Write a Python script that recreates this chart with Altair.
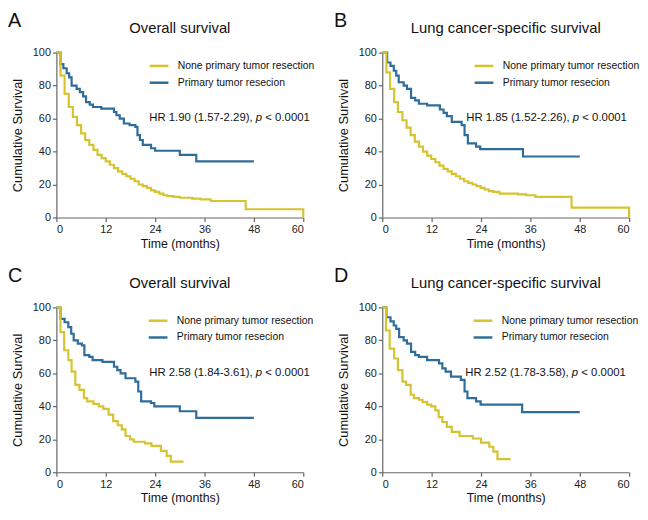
import altair as alt
import pandas as pd

FONT = "Liberation Sans, Arial, Helvetica, sans-serif"
YELLOW = "#D5C42F"
BLUE = "#2E6C99"
GROUPS = ["None primary tumor resection", "Primary tumor resecion"]

# ---------------- data ----------------
# Panel A - Overall survival
a_none_t = [0, 1.0, 2.0, 3.0, 4.0, 5.0, 6.0, 7.0, 8.0, 9.0, 10.0, 11.0, 12.0, 13.0, 14.0, 15.0, 16.0, 17.0,
            18.0, 19.0, 20.0, 21.0, 22.0, 23.0, 24.0, 25.0, 26.0, 27.0, 28.5, 30.0, 33.0, 35.0, 37.5, 46.0, 60.0]
a_none_s = [100, 86, 75, 67, 61, 56, 51, 47, 44, 41, 38, 36, 34, 32, 30, 28, 26.5, 25,
            23.5, 22, 20, 19, 18, 16.5, 15.5, 14.5, 13.5, 13, 12.5, 12, 11.5, 11, 10, 5, 0]
a_prim_t = [0, 1.0, 1.7, 2.5, 3.1, 3.7, 4.9, 5.7, 6.5, 7.2, 8.1, 8.9, 10.9, 14.0, 14.6, 15.4, 16.4, 17.8,
            19.2, 19.7, 20.3, 21.0, 23.0, 24.0, 30.0, 34.0, 48.0]
a_prim_s = [100, 93, 90.5, 87.5, 85, 80, 78, 76, 73.5, 70, 68.5, 67, 66, 64, 62, 60, 57, 56,
            55, 50, 47, 44, 42, 40.5, 38, 34, 34]

# Panel B - Lung cancer-specific survival
b_none_t = [0, 1.0, 1.9, 2.9, 3.8, 4.9, 5.9, 6.9, 7.9, 8.9, 9.9, 10.9, 11.9, 12.9, 13.9, 14.9, 15.9, 16.9,
            17.9, 18.9, 19.9, 20.9, 21.9, 22.9, 23.9, 24.9, 25.9, 27.0, 28.5, 33.0, 35.0, 37.2, 46.0, 60.0]
b_none_s = [100, 88, 78, 70, 64, 59, 54.5, 50, 46, 43, 40, 37.5, 35.5, 33.5, 31.5, 29.5, 28, 26.5,
            25, 23.5, 22, 21, 20, 19, 18, 17, 16, 15.5, 14.5, 14, 13.5, 12.5, 6, 0]
b_prim_t = [0, 1.2, 2.0, 2.8, 3.4, 4.0, 5.2, 6.0, 7.0, 8.0, 8.9, 10.9, 14.0, 14.9, 15.7, 16.9, 19.3,
            20.0, 20.8, 22.8, 23.8, 34.2, 48.0]
b_prim_s = [100, 94, 92, 89, 86, 82, 80, 78, 72.5, 71, 69, 68, 65.5, 63.5, 61.5, 58, 56,
            50, 45, 43, 41.5, 37, 37]

# Panel C - Overall survival
c_none_t = [0, 1.0, 1.9, 2.9, 3.7, 4.6, 5.6, 6.7, 7.5, 9.0, 10.3, 11.4, 12.7, 13.8, 14.9, 15.9, 16.8,
            17.9, 18.8, 21.5, 23.1, 25.4, 26.8, 27.8, 30.9]
c_none_s = [100, 85, 74, 68, 61, 53, 50, 45, 43, 41.5, 40, 38.5, 35, 31, 28.5, 26, 22,
            20, 18.5, 17.5, 16, 13, 10, 6.5, 6.5]
c_prim_t = [0, 1.0, 2.0, 2.9, 3.6, 4.2, 5.2, 6.2, 6.8, 8.0, 8.8, 11.2, 14.0, 14.8, 15.6, 16.8, 19.2,
            19.9, 20.6, 23.0, 23.8, 30.0, 34.0, 48.0]
c_prim_s = [100, 93, 91, 88, 84, 80, 78, 77, 71, 70, 68, 67, 64, 62, 60, 57, 55,
            49, 43, 42, 40, 37, 33, 33]

# Panel D - Lung cancer-specific survival
d_none_t = [0, 0.9, 1.8, 2.9, 3.8, 4.9, 5.8, 6.9, 7.7, 8.9, 9.8, 10.9, 11.9, 12.9, 13.7, 14.6, 15.7,
            16.9, 18.8, 22.0, 24.0, 26.0, 27.0, 28.0, 31.2]
d_none_s = [100, 86, 75, 69, 62, 55, 53, 47, 45, 44, 42.5, 41, 40, 37.5, 33.5, 30.5, 27.5,
            24.5, 22, 20.5, 18, 15.5, 12.5, 8, 8]
d_prim_t = [0, 1.0, 2.0, 2.8, 3.4, 4.1, 5.2, 6.0, 7.0, 8.0, 8.9, 10.9, 13.8, 14.6, 15.4, 16.7, 19.1,
            20.0, 20.7, 22.8, 23.9, 34.0, 48.0]
d_prim_s = [100, 94, 91.5, 89, 87, 82, 80, 78, 73, 71, 70, 68, 66, 63, 61, 58, 56,
            49, 45, 43, 41, 36.5, 36.5]

titles = ["Overall survival", "Lung cancer-specific survival", "Overall survival", "Lung cancer-specific survival"]
letters = ["A", "B", "C", "D"]
hr_main = ["HR 1.90 (1.57-2.29),", "HR 1.85 (1.52-2.26),", "HR 2.58 (1.84-3.61),", "HR 2.52 (1.78-3.58),"]
hr_tail = "< 0.0001"
x_ticks = [0, 12, 24, 36, 48, 60]
y_ticks = [0, 20, 40, 60, 80, 100]

W, H = 250, 167
HR_FS = 11.5


def make_df(nt, ns, pt, ps):
    rows = [{"time": t, "surv": s, "group": GROUPS[0]} for t, s in zip(nt, ns)]
    rows += [{"time": t, "surv": s, "group": GROUPS[1]} for t, s in zip(pt, ps)]
    return pd.DataFrame(rows)


def panel(df, title, letter, hr_text, hr_left, leg_x):
    color = alt.Color("group:N",
                      scale=alt.Scale(domain=GROUPS, range=[YELLOW, BLUE]),
                      legend=alt.Legend(orient="none", legendX=leg_x, legendY=2.5, title=None,
                                        symbolType="stroke", symbolStrokeWidth=2.5, symbolSize=360,
                                        labelFontSize=10.5, labelFont=FONT, labelColor="#111",
                                        labelOffset=8, rowPadding=-3.5, padding=0))
    x = alt.X("time:Q", scale=alt.Scale(domain=[0, 60], nice=False),
              axis=alt.Axis(values=x_ticks, title="Time (months)", titleFontSize=12.5, titlePadding=3))
    y = alt.Y("surv:Q", scale=alt.Scale(domain=[0, 100], nice=False),
              axis=alt.Axis(values=y_ticks, title="Cumulative Survival", titleFontSize=13, titlePadding=8))
    base = alt.Chart(df)
    blue = base.transform_filter(alt.datum.group == GROUPS[1]).mark_line(
        interpolate="step-after", strokeWidth=2.2).encode(x=x, y=y, color=color)
    yellow = base.transform_filter(alt.datum.group == GROUPS[0]).mark_line(
        interpolate="step-after", strokeWidth=2.2).encode(x=x, y=y, color=color)

    tdf = pd.DataFrame({"a": [letter], "b": [hr_text], "c": ["p"], "d": [hr_tail], "t": [title]})
    tb = alt.Chart(tdf)
    ttl = tb.mark_text(fontSize=15, font=FONT, align="center", baseline="middle", color="#111").encode(
        x=alt.value(W / 2), y=alt.value(-25), text="t:N")
    let = tb.mark_text(fontSize=20, font=FONT, align="left", baseline="alphabetic", color="#111").encode(
        x=alt.value(-49), y=alt.value(-26), text="a:N")
    p_x = hr_left + 108.0
    hr1 = tb.mark_text(fontSize=HR_FS, font=FONT, align="left", baseline="middle", color="#111").encode(
        x=alt.value(hr_left), y=alt.value(66), text="b:N")
    hr2 = tb.mark_text(fontSize=HR_FS, font=FONT, align="left", baseline="middle", fontStyle="italic",
                       color="#111").encode(x=alt.value(p_x), y=alt.value(66), text="c:N")
    hr3 = tb.mark_text(fontSize=HR_FS, font=FONT, align="left", baseline="middle", color="#111").encode(
        x=alt.value(p_x + 9.6), y=alt.value(66), text="d:N")
    return alt.layer(blue, yellow, ttl, let, hr1, hr2, hr3).properties(width=W, height=H)


pA = panel(make_df(a_none_t, a_none_s, a_prim_t, a_prim_s), titles[0], letters[0], hr_main[0], 94, 93)
pB = panel(make_df(b_none_t, b_none_s, b_prim_t, b_prim_s), titles[1], letters[1], hr_main[1], 85, 92)
pC = panel(make_df(c_none_t, c_none_s, c_prim_t, c_prim_s), titles[2], letters[2], hr_main[2], 94, 92)
pD = panel(make_df(d_none_t, d_none_s, d_prim_t, d_prim_s), titles[3], letters[3], hr_main[3], 84, 91)

chart = alt.concat(pA, pB, pC, pD, columns=2, spacing=alt.RowColnumber(row=91, column=80),
                   bounds="flush").resolve_legend(color="independent").properties(
    padding=0).configure_view(stroke=None).configure_axis(
    labelFont=FONT, titleFont=FONT, labelFontSize=11, labelColor="#222", titleColor="#111",
    titleFontWeight="normal", domainColor="#666", tickColor="#666", domainWidth=1.2, tickWidth=1.2,
    tickSize=4, labelPadding=2, grid=False)

chart.save("out.html", embed_options={"renderer": "svg", "actions": False})
